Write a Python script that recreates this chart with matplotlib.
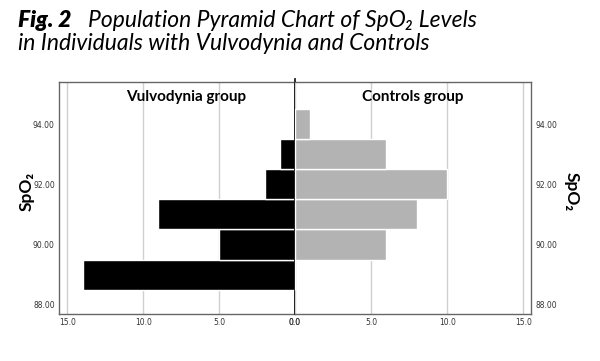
import matplotlib
matplotlib.use('Agg')
import matplotlib.pyplot as plt

# SpO2 levels (bin centres) and counts per group
spo2 = [89, 90, 91, 92, 93, 94]
vulvodynia = [14, 5, 9, 2, 1, 0]
controls = [0, 6, 8, 10, 6, 1]

y_ticks = [88, 90, 92, 94]
x_ticks = [0, 5, 10, 15]

fig = plt.figure(figsize=(6, 3.61), dpi=100)

ax_l = fig.add_axes([0.0983, 0.1294, 0.3933, 0.6427])
ax_r = fig.add_axes([0.4917, 0.1294, 0.3933, 0.6427])

ax_l.barh(spo2, vulvodynia, height=1.0, color='black', edgecolor='white', linewidth=1, zorder=3)
ax_r.barh(spo2, controls, height=1.0, color='#b3b3b3', edgecolor='white', linewidth=1, zorder=3)

for ax in (ax_l, ax_r):
    ax.set_ylim(87.68, 95.39)
    ax.set_yticks(y_ticks)
    ax.set_yticklabels(['%.2f' % v for v in y_ticks])
    ax.set_xticks(x_ticks)
    ax.set_xticklabels(['%.1f' % v for v in x_ticks])
    ax.tick_params(length=0, labelsize=5.5, labelcolor='#333333', pad=3)
    ax.grid(axis='x', color='#d0d0d0', linewidth=1, zorder=0)
    for s in ax.spines.values():
        s.set_color('#666666')
        s.set_linewidth(1)

ax_l.set_xlim(15.55, 0)
ax_r.set_xlim(0, 15.5)
ax_r.yaxis.tick_right()

ax_l.spines['right'].set_color('#222222')
ax_l.spines['right'].set_linewidth(1.3)
ax_r.spines['left'].set_visible(False)
ax_l.axvline(0, ymin=0, ymax=1.012, color='#222222', linewidth=1.3, clip_on=False, zorder=5)

ax_l.text(0.54, 0.935, 'Vulvodynia group', transform=ax_l.transAxes, ha='center', va='center',
          fontsize=11, fontweight='bold', family='Lato')
ax_r.text(0.5, 0.935, 'Controls group', transform=ax_r.transAxes, ha='center', va='center',
          fontsize=11, fontweight='bold', family='Lato')

fig.text(0.045, 0.47, 'SpO\u2082', rotation=90, ha='center', va='center',
         fontsize=12.5, fontweight='bold', family=['Lato', 'DejaVu Sans'])
fig.text(0.952, 0.47, 'SpO\u2082', rotation=270, ha='center', va='center',
         fontsize=12.5, fontweight='bold', family=['Lato', 'DejaVu Sans'])

fig.text(0.03, 0.925, 'Fig. 2', ha='left', va='baseline', fontsize=16.5,
         style='italic', fontweight='heavy', family='Lato')
fig.text(0.147, 0.925, 'Population Pyramid Chart of SpO\u2082 Levels',
         ha='left', va='baseline', fontsize=16.5, style='italic', fontweight='normal',
         family=['Lato', 'DejaVu Sans'])
fig.text(0.03, 0.862, 'in Individuals with Vulvodynia and Controls',
         ha='left', va='baseline', fontsize=16.5, style='italic', fontweight='normal', family='Lato')

plt.savefig('out.png', dpi=100)
